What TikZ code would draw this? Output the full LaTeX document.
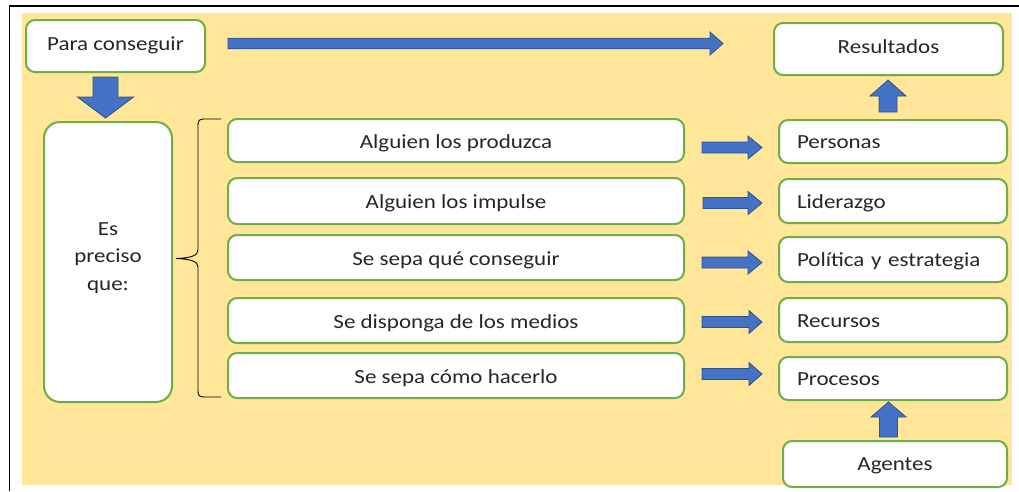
\documentclass[tikz,border=0pt]{standalone}
\usepackage{fontspec}
\setmainfont{Carlito}[FakeStretch=1.15]
\definecolor{bgyellow}{HTML}{FFE699}
\definecolor{boxgreen}{HTML}{70AD47}
\definecolor{arrowblue}{HTML}{4472C4}
\definecolor{arrowedge}{HTML}{2F528F}
\definecolor{txt}{HTML}{262626}
\newcommand\fs{\fontsize{20}{27.5}\selectfont\color{txt}}
\newcommand\BArrH[6]{% x1 xh x2 yc sh hh
 \draw[barrow] ({#1},{#4-#5}) -- ({#2},{#4-#5}) -- ({#2},{#4-#6}) -- ({#3},{#4}) -- ({#2},{#4+#6}) -- ({#2},{#4+#5}) -- ({#1},{#4+#5}) -- cycle;}
\newcommand\BArrV[6]{% y1 yh y2 xc sh hh
 \draw[barrow] ({#4-#5},{#1}) -- ({#4-#5},{#2}) -- ({#4-#6},{#2}) -- ({#4},{#3}) -- ({#4+#6},{#2}) -- ({#4+#5},{#2}) -- ({#4+#5},{#1}) -- cycle;}
\tikzset{
 gbox/.style={draw=boxgreen, line width=2pt, fill=white, rounded corners=9pt, inner sep=0pt, font=\fs, text depth=0pt},
 lbox/.style={gbox, minimum width=456pt, text height=15pt},
 rbox/.style={gbox, text width=192pt, inner xsep=18pt, align=left, text height=14pt},
 barrow/.style={fill=arrowblue, draw=arrowedge, line width=0.8pt, line join=miter},
}
\begin{document}
\begin{tikzpicture}[x=1pt,y=-1pt]
\useasboundingbox (0,0) rectangle (1019,491);
\fill[white] (0,0) rectangle (1019,491);
\fill[bgyellow] (22,13) rectangle (1012,485);
\draw[line width=1.2pt] (9.5,491) -- (9.5,6) -- (1019,6);

\node[gbox, minimum width=179pt, minimum height=52pt, text height=8pt] (para) at (115.5,46) {Para conseguir};
\node[gbox, rounded corners=16pt, minimum width=128pt, minimum height=280pt,
  label={[font=\fs, align=center, yshift=4pt]center:Es\\preciso\\que:}] (es) at (108,262) {};

\node[lbox, minimum height=43pt] (a1) at (456,140.5) {Alguien los produzca};
\node[lbox, minimum height=46pt] (a2) at (456,201) {Alguien los impulse};
\node[lbox, minimum height=45pt] (a3) at (456,257.5) {Se sepa qué conseguir};
\node[lbox, minimum height=45pt] (a4) at (456,320.5) {Se disponga de los medios};
\node[lbox, minimum height=45pt] (a5) at (456,375.5) {Se sepa cómo hacerlo};

\node[rbox, minimum height=43pt] (r1) at (893,141.5) {Personas};
\node[rbox, minimum height=44pt] (r2) at (893,201) {Liderazgo};
\node[rbox, minimum height=45pt] (r3) at (893,259.5) {Política y estrategia};
\node[rbox, minimum height=44pt] (r4) at (893,320) {Recursos};
\node[rbox, minimum height=43pt] (r5) at (893,378.5) {Procesos};

\node[gbox, minimum width=229pt, minimum height=52pt, text height=8.5pt] (res) at (888.5,49) {Resultados};
\node[gbox, minimum width=224pt, minimum height=46pt, text height=13.5pt] (ag) at (895,464) {Agentes};

% block arrows
\BArrH{228}{710}{723}{43.5}{5.3}{11.5}
\BArrH{702}{748}{762}{147.5}{5.5}{11.5}
\BArrH{703}{748}{762}{203}{5.5}{11.5}
\BArrH{702}{748}{762}{262.5}{5.5}{11.5}
\BArrH{702}{749}{762}{322}{5.5}{11.5}
\BArrH{702}{749}{762}{374}{5.5}{11.5}
\BArrV{77}{97}{118}{105.5}{12.5}{28}
\BArrV{112}{96}{80}{888}{9}{18}
\BArrV{437}{417}{402}{888.5}{9}{17.5}

% brace
\draw[line width=0.9pt] (221,119) -- (204,119) .. controls (199.5,119) and (198,120.5) .. (198,125) -- (198,250)
  .. controls (198,255.5) and (191,258) .. (176,258.5)
  .. controls (191,259) and (198,261.5) .. (198,267) -- (198,391)
  .. controls (198,395.5) and (199.5,397) .. (204,397) -- (221,397);
\end{tikzpicture}
\end{document}
